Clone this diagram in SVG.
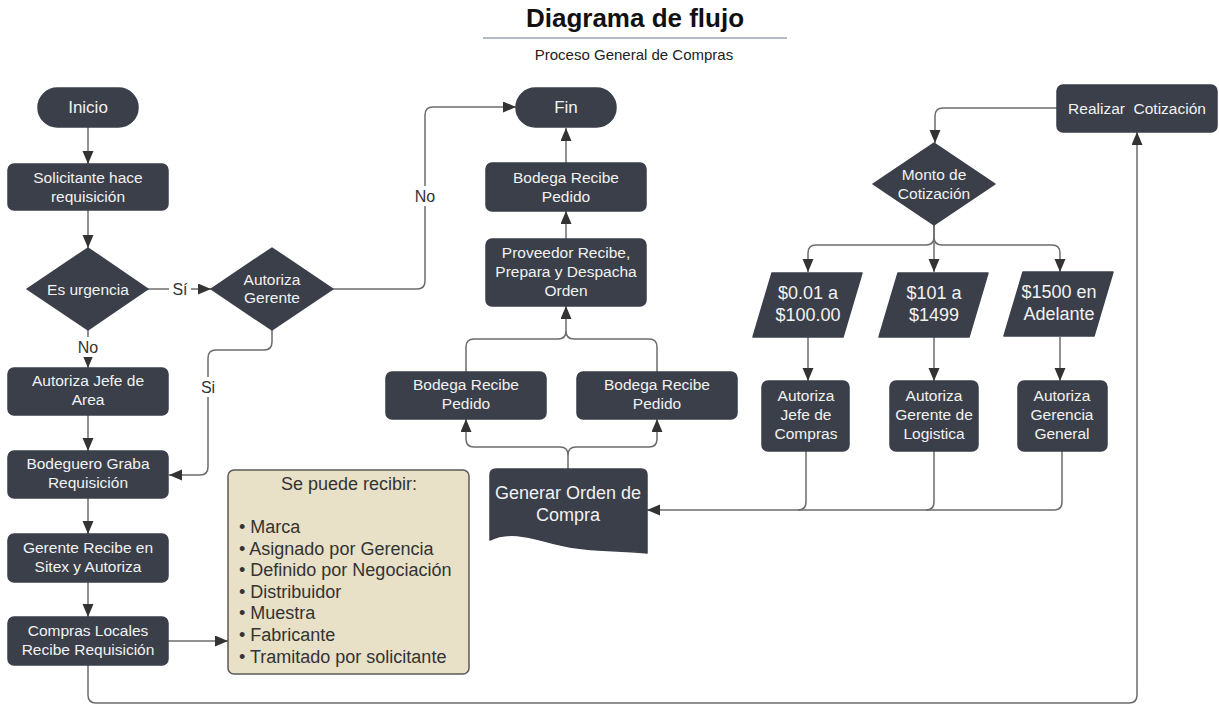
<svg xmlns="http://www.w3.org/2000/svg" width="1219" height="705" viewBox="0 0 1219 705">
  <style>
    .node { fill: #3a3f4a; stroke: #3a3f4a; stroke-width: 1.5; stroke-linejoin: round; }
    .nt { font-family: "Liberation Sans", Arial, sans-serif; font-size: 15.5px; fill: #f2f2f2; text-anchor: middle; }
    .big { font-size: 17px; }
    .par { font-size: 18px; }
    .conn { fill: none; stroke: #6c6c6c; stroke-width: 1.5; }
    .lbl { font-family: "Liberation Sans", Arial, sans-serif; font-size: 16px; fill: #333; text-anchor: middle; }
    .note { fill: #e8e0c7; stroke: #5a5a5a; stroke-width: 1.5; }
    .nn { font-family: "Liberation Sans", Arial, sans-serif; font-size: 18px; fill: #333; }
  </style>
  <defs>
    <marker id="arr" markerUnits="userSpaceOnUse" markerWidth="14" markerHeight="12" refX="13" refY="5.5" orient="auto">
      <path d="M0,0 L13,5.5 L0,11 z" fill="#333"/>
    </marker>
  </defs>
  <rect width="1219" height="705" fill="#ffffff"/>

  <!-- title block -->
  <g id="title">
    <text x="635" y="27" font-family="Liberation Sans, Arial, sans-serif" font-size="26" font-weight="bold" fill="#111" text-anchor="middle">Diagrama de flujo</text>
    <line x1="483" y1="38" x2="787" y2="38" stroke="#b4b9c6" stroke-width="2"/>
    <text x="634" y="60" font-family="Liberation Sans, Arial, sans-serif" font-size="15" fill="#222" text-anchor="middle">Proceso General de Compras</text>
  </g>

  <!-- connectors -->
  <g id="connectors">
    <path class="conn" d="M88,127 V164" marker-end="url(#arr)"/>
    <path class="conn" d="M88,210 V248" marker-end="url(#arr)"/>
    <path class="conn" d="M148,289 H211" marker-end="url(#arr)"/>
    <path class="conn" d="M333,289 H417 Q425,289 425,281 V115 Q425,107 433,107 H516" marker-end="url(#arr)"/>
    <path class="conn" d="M88,330 V368" marker-end="url(#arr)"/>
    <path class="conn" d="M272,330 V342 Q272,350 264,350 H216 Q208,350 208,358 V467 Q208,475 200,475 H169" marker-end="url(#arr)"/>
    <path class="conn" d="M88,415 V451" marker-end="url(#arr)"/>
    <path class="conn" d="M88,498 V534" marker-end="url(#arr)"/>
    <path class="conn" d="M88,582 V617" marker-end="url(#arr)"/>
    <path class="conn" d="M168,641 H228" marker-end="url(#arr)"/>
    <path class="conn" d="M88,665 V695 Q88,703 96,703 H1129 Q1137,703 1137,695 V132" marker-end="url(#arr)"/>
    <path class="conn" d="M1057,108 H943 Q935,108 935,116 V143" marker-end="url(#arr)"/>
    <path class="conn" d="M934,225 V237 Q934,245 926,245 H816 Q808,245 808,253 V272" marker-end="url(#arr)"/>
    <path class="conn" d="M934,225 V272" marker-end="url(#arr)"/>
    <path class="conn" d="M934,237 Q934,245 942,245 H1052 Q1060,245 1060,253 V272" marker-end="url(#arr)"/>
    <path class="conn" d="M808,337 V381" marker-end="url(#arr)"/>
    <path class="conn" d="M934,337 V381" marker-end="url(#arr)"/>
    <path class="conn" d="M1060,337 V381" marker-end="url(#arr)"/>
    <path class="conn" d="M1062,451 V502 Q1062,510 1054,510 H647" marker-end="url(#arr)"/>
    <path class="conn" d="M934,451 V502 Q934,510 926,510"/>
    <path class="conn" d="M806,451 V502 Q806,510 798,510"/>
    <path class="conn" d="M568,470 V455 Q568,447 560,447 H474 Q466,447 466,439 V419" marker-end="url(#arr)"/>
    <path class="conn" d="M568,455 Q568,447 576,447 H649 Q657,447 657,439 V419" marker-end="url(#arr)"/>
    <path class="conn" d="M466,372 V347 Q466,339 474,339 H558 Q566,339 566,331 V306" marker-end="url(#arr)"/>
    <path class="conn" d="M657,372 V347 Q657,339 649,339 H574 Q566,339 566,331"/>
    <path class="conn" d="M566,239 V211" marker-end="url(#arr)"/>
    <path class="conn" d="M566,163 V128" marker-end="url(#arr)"/>
    <!-- branch labels -->
    <rect x="169" y="280" width="22" height="18" fill="#fff"/>
    <text class="lbl" x="180" y="295">Sí</text>
    <rect x="412" y="186" width="26" height="20" fill="#fff"/>
    <text class="lbl" x="425" y="202">No</text>
    <rect x="75" y="337" width="26" height="20" fill="#fff"/>
    <text class="lbl" x="88" y="353">No</text>
    <rect x="199" y="377" width="18" height="20" fill="#fff"/>
    <text class="lbl" x="208" y="393">Si</text>
  </g>

  <!-- left column -->
  <g id="inicio">
    <rect class="node" x="38" y="88" width="100" height="39" rx="19.5"/>
    <text class="nt big" x="88" y="113">Inicio</text>
  </g>
  <g id="solicitante">
    <rect class="node" x="8" y="164" width="160" height="46" rx="6"/>
    <text class="nt" x="88" y="182.5">Solicitante hace</text>
    <text class="nt" x="88" y="201.5">requisición</text>
  </g>
  <g id="es-urgencia">
    <polygon class="node" points="88,248 148,289 88,330 27,289"/>
    <text class="nt" x="88" y="294.5">Es urgencia</text>
  </g>
  <g id="autoriza-gerente">
    <polygon class="node" points="272,248 333,289 272,330 211,289"/>
    <text class="nt" x="272" y="284.5">Autoriza</text>
    <text class="nt" x="272" y="302.5">Gerente</text>
  </g>
  <g id="autoriza-jefe-area">
    <rect class="node" x="8" y="368" width="160" height="47" rx="6"/>
    <text class="nt" x="88" y="385.5">Autoriza Jefe de</text>
    <text class="nt" x="88" y="404.5">Area</text>
  </g>
  <g id="bodeguero">
    <rect class="node" x="8" y="451" width="160" height="47" rx="6"/>
    <text class="nt" x="88" y="468.5">Bodeguero Graba</text>
    <text class="nt" x="88" y="487.5">Requisición</text>
  </g>
  <g id="gerente-sitex">
    <rect class="node" x="8" y="534" width="160" height="48" rx="6"/>
    <text class="nt" x="88" y="552.5">Gerente Recibe en</text>
    <text class="nt" x="88" y="571.5">Sitex y Autoriza</text>
  </g>
  <g id="compras-locales">
    <rect class="node" x="8" y="617" width="160" height="48" rx="6"/>
    <text class="nt" x="88" y="635.5">Compras Locales</text>
    <text class="nt" x="88" y="654.5">Recibe Requisición</text>
  </g>
  <g id="nota-recepcion">
    <rect class="note" x="228" y="470" width="241" height="204" rx="6"/>
    <text class="nn" x="349" y="490" text-anchor="middle">Se puede recibir:</text>
    <text class="nn" x="239" y="533">• Marca</text>
    <text class="nn" x="239" y="554.6">• Asignado por Gerencia</text>
    <text class="nn" x="239" y="576.2">• Definido por Negociación</text>
    <text class="nn" x="239" y="597.8">• Distribuidor</text>
    <text class="nn" x="239" y="619.4">• Muestra</text>
    <text class="nn" x="239" y="641">• Fabricante</text>
    <text class="nn" x="239" y="662.6">• Tramitado por solicitante</text>
  </g>

  <!-- middle column -->
  <g id="fin">
    <rect class="node" x="516" y="88" width="100" height="39" rx="19.5"/>
    <text class="nt big" x="566" y="113">Fin</text>
  </g>
  <g id="bodega-recibe-final">
    <rect class="node" x="486" y="163" width="160" height="48" rx="6"/>
    <text class="nt" x="566" y="182.5">Bodega Recibe</text>
    <text class="nt" x="566" y="201.5">Pedido</text>
  </g>
  <g id="proveedor">
    <rect class="node" x="486" y="239" width="160" height="67" rx="6"/>
    <text class="nt" x="566" y="257.5">Proveedor Recibe,</text>
    <text class="nt" x="566" y="276.5">Prepara y Despacha</text>
    <text class="nt" x="566" y="295.5">Orden</text>
  </g>
  <g id="bodega-recibe-a">
    <rect class="node" x="386" y="372" width="160" height="47" rx="6"/>
    <text class="nt" x="466" y="389.5">Bodega Recibe</text>
    <text class="nt" x="466" y="408.5">Pedido</text>
  </g>
  <g id="bodega-recibe-b">
    <rect class="node" x="577" y="372" width="160" height="47" rx="6"/>
    <text class="nt" x="657" y="389.5">Bodega Recibe</text>
    <text class="nt" x="657" y="408.5">Pedido</text>
  </g>
  <g id="generar-orden">
    <path class="node" d="M496,469 H641 Q647,469 647,475 V553 C625,550 600,552 570,547 C540,542 515,528 490,540 V475 Q490,469 496,469 Z"/>
    <text class="nt par" x="568" y="498.5">Generar Orden de</text>
    <text class="nt par" x="568" y="520.5">Compra</text>
  </g>

  <!-- right side -->
  <g id="realizar-cotizacion">
    <rect class="node" x="1057" y="85" width="160" height="47" rx="6"/>
    <text class="nt" x="1137" y="113.5" xml:space="preserve">Realizar  Cotización</text>
  </g>
  <g id="monto-cotizacion">
    <polygon class="node" points="934,143 995,184 934,225 873,184"/>
    <text class="nt" x="934" y="179.5">Monto de</text>
    <text class="nt" x="934" y="198.5">Cotización</text>
  </g>
  <g id="rango-1">
    <polygon class="node" points="772,273 862,273 843,337 753,337"/>
    <text class="nt par" x="808" y="299">$0.01 a</text>
    <text class="nt par" x="808" y="321">$100.00</text>
  </g>
  <g id="rango-2">
    <polygon class="node" points="898,273 988,273 969,337 879,337"/>
    <text class="nt par" x="934" y="299">$101 a</text>
    <text class="nt par" x="934" y="321">$1499</text>
  </g>
  <g id="rango-3">
    <polygon class="node" points="1023,272 1113,272 1094,336 1004,336"/>
    <text class="nt par" x="1059" y="298">$1500 en</text>
    <text class="nt par" x="1059" y="320">Adelante</text>
  </g>
  <g id="autoriza-jefe-compras">
    <rect class="node" x="762" y="381" width="87" height="70" rx="6"/>
    <text class="nt" x="806" y="400.5">Autoriza</text>
    <text class="nt" x="806" y="419.5">Jefe de</text>
    <text class="nt" x="806" y="438.5">Compras</text>
  </g>
  <g id="autoriza-gerente-logistica">
    <rect class="node" x="890" y="381" width="88" height="70" rx="6"/>
    <text class="nt" x="934" y="400.5">Autoriza</text>
    <text class="nt" x="934" y="419.5">Gerente de</text>
    <text class="nt" x="934" y="438.5">Logistica</text>
  </g>
  <g id="autoriza-gerencia-general">
    <rect class="node" x="1018" y="381" width="89" height="70" rx="6"/>
    <text class="nt" x="1062" y="400.5">Autoriza</text>
    <text class="nt" x="1062" y="419.5">Gerencia</text>
    <text class="nt" x="1062" y="438.5">General</text>
  </g>
</svg>
